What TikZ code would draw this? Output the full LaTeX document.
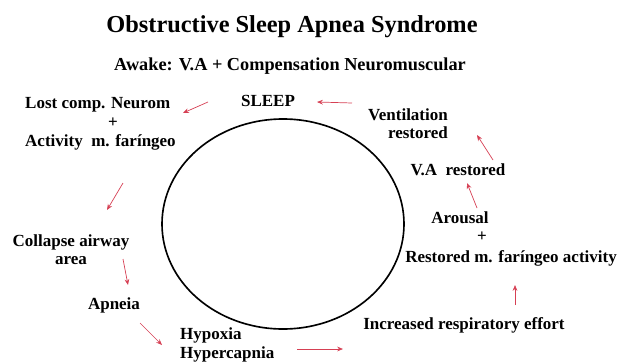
\documentclass[tikz,border=0pt]{standalone}
\usepackage{fontspec}
\setmainfont{Liberation Serif}
\usepackage{tikz}
\usetikzlibrary{arrows.meta, positioning}
\definecolor{arrowred}{RGB}{214,64,84}

\begin{document}
\begin{tikzpicture}[
        x=0.03cm, y=-0.03cm,
        title/.style={font=\bfseries\fontsize{20.8}{23}\selectfont},
        subtitle/.style={font=\bfseries\fontsize{15.6}{18}\selectfont},
        label/.style={font=\bfseries\fontsize{14.5}{15.5}\selectfont, align=center, inner sep=0pt},
        arrow/.style={-{Stealth[length=5pt, width=4pt]}, arrowred, line width=0.6pt}
    ]
        \useasboundingbox (0,0) rectangle (617,363);

        \node (title) [title] at (292,27) {Obstructive Sleep Apnea Syndrome};
        \node (awake) [subtitle] at (290,66) {Awake: V.A + Compensation Neuromuscular};

        \draw [line width=1.4pt] (283,224) ellipse [x radius=121, y radius=105];

        \node (sleep) [label] at (268,101) {SLEEP};
        \node (lost) [label, anchor=west] at (25,105) {Lost comp. Neurom};
        \node (lostplus) [label] at (113,123) {+};
        \node (activity) [label, anchor=west] at (25,142) {Activity\ \ m. faríngeo};
        \node (collapse) [label] at (71,250) {Collapse airway \\ area};
        \node (apneia) [label] at (114,305) {Apneia};
        \node (hypoxia) [label, align=left, anchor=west] at (180,345) {Hypoxia \\ Hypercapnia};
        \node (effort) [label] at (464,325) {Increased respiratory effort};
        \node (arousal) [label] at (460,218) {Arousal};
        \node (arousalplus) [label] at (482,237) {+};
        \node (restoredm) [label] at (511,258) {Restored m. faríngeo activity};
        \node (va) [label] at (458,170) {V.A\ \ restored};
        \node (vent) [label, align=right, anchor=east] at (448,124) {Ventilation \\ restored};

        % arrow ends
        \coordinate (a1) at (352,103); \coordinate (b1) at (317,102);
        \coordinate (a2) at (208,102); \coordinate (b2) at (183,113);
        \coordinate (a3) at (123,183); \coordinate (b3) at (107,210);
        \coordinate (a4) at (123,259); \coordinate (b4) at (128,285);
        \coordinate (a5) at (140,323); \coordinate (b5) at (162,345);
        \coordinate (a6) at (297,349); \coordinate (b6) at (343,349);
        \coordinate (a7) at (515,305); \coordinate (b7) at (515,285);
        \coordinate (a8) at (477,208); \coordinate (b8) at (467,183);
        \coordinate (a9) at (493,160); \coordinate (b9) at (477,135);

        \foreach \i in {1,...,9}
            \draw [arrow] (a\i) -- (b\i);
    \end{tikzpicture}
\end{document}
